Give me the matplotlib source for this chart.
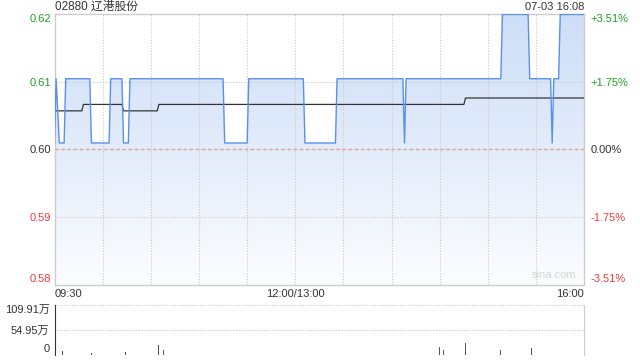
import numpy as np
import matplotlib.pyplot as plt
from matplotlib.patches import Polygon
from matplotlib.colors import LinearSegmentedColormap

plt.rcParams['font.family'] = ['Liberation Sans', 'Noto Sans CJK SC', 'DejaVu Sans']

# ==============================
# DATA
# ==============================

stock_name = "02880 辽港股份"
stamp = "07-03 16:08"

prev_close = 0.599
band = 0.0351          # axis half range as a fraction of prev close

# minutes since 09:30 (lunch break removed), price
price_min = [0, 1, 3, 6, 7, 22, 23, 34, 35, 42, 43, 46, 47, 105, 106, 120, 121,
             155, 156, 175, 176, 217, 218, 219, 278, 279, 295, 296, 309, 310,
             311, 314, 315, 330]
price_val = [0.60, 0.61, 0.60, 0.60, 0.61, 0.61, 0.60, 0.60, 0.61, 0.61, 0.60,
             0.60, 0.61, 0.61, 0.60, 0.60, 0.61, 0.61, 0.60, 0.60, 0.61, 0.61,
             0.60, 0.61, 0.61, 0.62, 0.62, 0.61, 0.61, 0.60, 0.61, 0.61, 0.62,
             0.62]

avg_min = [0, 17, 18, 42, 43, 64, 65, 255, 256, 330]
avg_val = [0.605, 0.605, 0.606, 0.606, 0.605, 0.605, 0.606, 0.606, 0.607, 0.607]

# volume, in 万 shares
vol_min = [5, 19, 23, 44, 65, 68, 240, 242, 256, 278, 297]
vol_val = [7, 4, 4, 6, 20, 10, 17, 10, 26, 10, 15]
vol_max = 109.91

price_labels = ["0.62", "0.61", "0.60", "0.59", "0.58"]
pct_labels = ["+3.51%", "+1.75%", "0.00%", "-1.75%", "-3.51%"]
level_steps = [1, 0.5, 0, -0.5, -1]
vol_labels = ["109.91万", "54.95万", "0"]
vol_ticks = [109.91, 54.95, 0]

time_pos = [0, 150, 330]
time_labels = ["09:30", "12:00/13:00", "16:00"]

# ==============================
# STYLE
# ==============================

GREEN = '#22a022'
RED = '#f03a3a'
DARK = '#333333'
GRID = '#c8c8c8'
BORDER = '#cccccc'
label_colors = [GREEN, GREEN, DARK, RED, RED]

lo = prev_close * (1 - band)
hi = prev_close * (1 + band)
levels = [prev_close * (1 + band * k) for k in level_steps]

fig = plt.figure(figsize=(6.4, 3.6), dpi=100)
ax = fig.add_axes([54.5 / 640, 1 - 284.5 / 360, 529.8 / 640, 270.2 / 360])
axv = fig.add_axes([54.5 / 640, 1 - 354.5 / 360, 529.8 / 640, 49.5 / 360])

# ==============================
# PRICE PANEL
# ==============================

ax.set_xlim(0, 330)
ax.set_ylim(lo, hi)

# gradient fill under the price line
verts = np.column_stack([
    np.r_[price_min[0], price_min, price_min[-1]],
    np.r_[lo, price_val, lo],
])
poly = Polygon(verts, closed=True, facecolor='none', edgecolor='none')
ax.add_patch(poly)
cmap = LinearSegmentedColormap.from_list('fill', ['#fcfdff', '#e3ecfb', '#cddef7'])
grad = np.linspace(1, 0, 256).reshape(-1, 1)
im = ax.imshow(grad, extent=[0, 330, lo, hi], aspect='auto', cmap=cmap,
               origin='upper', zorder=1, interpolation='bilinear')
im.set_clip_path(poly)

# grid
for m in range(30, 330, 30):
    ax.axvline(m, color=GRID, lw=0.8, ls=(0, (1, 1.5)), zorder=2)
for lvl in levels[1:-1]:
    ax.axhline(lvl, color=GRID, lw=0.8, ls=(0, (1, 1.5)), zorder=2)
ax.axhline(prev_close, color='#e6a184', lw=1.0, ls=(0, (2.2, 2.2)), zorder=2)

ax.plot(price_min, price_val, color='#5a8ff0', lw=1.0, zorder=4)
ax.plot(avg_min, avg_val, color=DARK, lw=0.9, zorder=3)

for s in ax.spines.values():
    s.set_color(BORDER)
    s.set_linewidth(1.0)

ax.set_yticks(levels)
ax.set_yticklabels(price_labels)
ax.tick_params(axis='y', length=0, pad=2.2, labelsize=8)
for lab, c in zip(ax.get_yticklabels(), label_colors):
    lab.set_color(c)
ax.get_yticklabels()[0].set_va('top')
ax.get_yticklabels()[-1].set_va('bottom')

ax.set_xticks(time_pos)
ax.set_xticklabels(time_labels)
ax.tick_params(axis='x', length=0, pad=3.5, labelsize=8, labelcolor=DARK)
ax.get_xticklabels()[0].set_ha('left')
ax.get_xticklabels()[-1].set_ha('right')

axr = ax.twinx()
axr.set_ylim(lo, hi)
axr.set_yticks(levels)
axr.set_yticklabels(pct_labels)
axr.tick_params(axis='y', length=0, pad=4.3, labelsize=8)
for lab, c in zip(axr.get_yticklabels(), label_colors):
    lab.set_color(c)
axr.get_yticklabels()[0].set_va('top')
axr.get_yticklabels()[-1].set_va('bottom')
for s in axr.spines.values():
    s.set_visible(False)

ax.text(0.985, 0.015, "sina.com", transform=ax.transAxes, ha='right',
        va='bottom', fontsize=8, color='#d4d4d4', zorder=5)

fig.text(55 / 640, 1 - 7 / 360, stock_name, ha='left', va='center',
         fontsize=8.5, color=DARK)
fig.text(584.3 / 640, 1 - 7 / 360, stamp, ha='right', va='center',
         fontsize=8, color=DARK)

# ==============================
# VOLUME PANEL
# ==============================

axv.set_xlim(0, 330)
axv.set_ylim(0, vol_max)
axv.bar(vol_min, vol_val, width=0.6, color='#555555', zorder=3)
for v in vol_ticks:
    axv.axhline(v, color=GRID, lw=0.8, ls=(0, (1, 1.5)), zorder=2)

axv.spines['left'].set_color(DARK)
axv.spines['right'].set_color(BORDER)
axv.spines['top'].set_visible(False)
axv.spines['bottom'].set_visible(False)
axv.set_xticks([])
axv.set_yticks(vol_ticks)
axv.set_yticklabels(vol_labels)
axv.tick_params(axis='y', length=0, pad=3.5, labelsize=8, labelcolor=DARK)
axv.get_yticklabels()[0].set_va('top')
axv.get_yticklabels()[-1].set_va('bottom')

fig.savefig("out.png", dpi=100)
